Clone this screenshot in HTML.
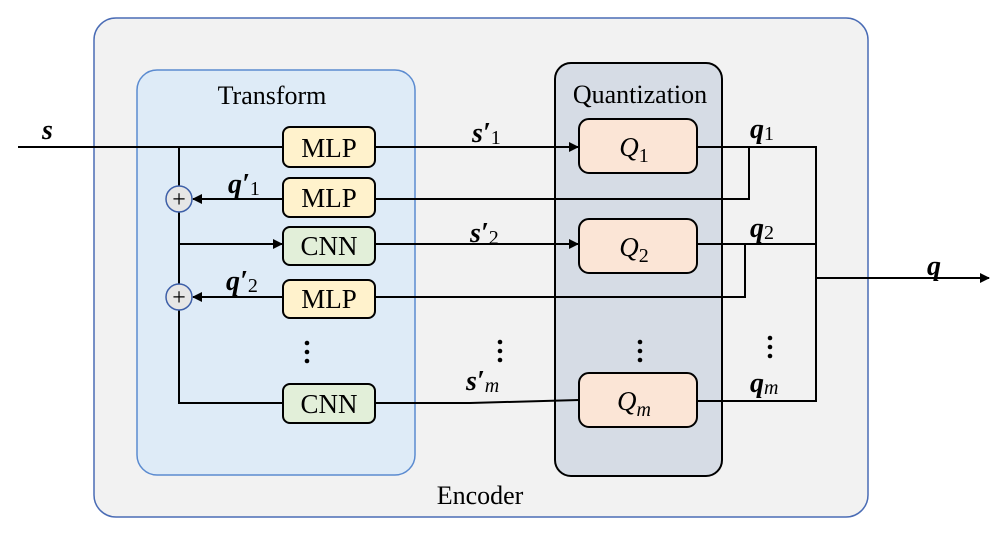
<!DOCTYPE html>
<html><head><style>body{margin:0;background:#fff}svg{display:block}</style></head><body>
<svg width="1006" height="533" viewBox="0 0 1006 533" xmlns="http://www.w3.org/2000/svg" font-family="Liberation Serif, serif">
<defs><marker id="a" markerWidth="10" markerHeight="10" refX="9" refY="5" orient="auto" markerUnits="userSpaceOnUse"><path d="M0,0 L10,5 L0,10 z" fill="#000"/></marker></defs>
<rect x="94" y="18" width="774" height="499" rx="22" fill="#f2f2f2" stroke="#4a6cb5" stroke-width="1.5"/>
<rect x="137" y="70" width="278" height="405" rx="20" fill="#deebf7" stroke="#5b8bd0" stroke-width="1.5"/>
<rect x="555" y="63" width="167" height="413" rx="16" fill="#d6dce5" stroke="#000" stroke-width="2"/>
<text x="272" y="104" font-size="26" text-anchor="middle">Transform</text>
<text x="640" y="103" font-size="26" text-anchor="middle">Quantization</text>
<text x="480" y="504" font-size="26" text-anchor="middle">Encoder</text>
<g stroke="#000" stroke-width="2" fill="none">
<path d="M18 147H283"/><path d="M179 147V403H283"/>
<path d="M375 147H578" marker-end="url(#a)"/>
<path d="M179 244H282" marker-end="url(#a)"/>
<path d="M375 244H578" marker-end="url(#a)"/>
<path d="M375 403H470L579 400"/>
<path d="M283 199H193" marker-end="url(#a)"/>
<path d="M283 297H193" marker-end="url(#a)"/>
<path d="M375 199H749V147"/>
<path d="M375 297H745V244"/>
<path d="M697 147H816V401H697"/><path d="M697 244H816"/>
<path d="M816 278H989" marker-end="url(#a)"/>
</g>
<g stroke="#000" stroke-width="2">
<rect x="283" y="127" width="92" height="40" rx="7" fill="#fff2cc"/>
<rect x="283" y="178" width="92" height="39" rx="7" fill="#fff2cc"/>
<rect x="283" y="227" width="92" height="38" rx="7" fill="#e2efd9"/>
<rect x="283" y="280" width="92" height="38" rx="7" fill="#fff2cc"/>
<rect x="283" y="384" width="92" height="39" rx="7" fill="#e2efd9"/>
<rect x="579" y="119" width="118" height="54" rx="10" fill="#fbe5d6"/>
<rect x="579" y="219" width="118" height="54" rx="10" fill="#fbe5d6"/>
<rect x="579" y="373" width="118" height="54" rx="10" fill="#fbe5d6"/>
</g>
<g font-size="27" text-anchor="middle">
<text x="329" y="157">MLP</text><text x="329" y="207">MLP</text><text x="329" y="255">CNN</text><text x="329" y="308">MLP</text><text x="329" y="413">CNN</text>
</g>
<g font-size="27" font-style="italic" text-anchor="middle">
<text x="634" y="156">Q<tspan font-style="normal" font-size="20" dy="6">1</tspan></text>
<text x="634" y="256">Q<tspan font-style="normal" font-size="20" dy="6">2</tspan></text>
<text x="634" y="410">Q<tspan font-style="italic" font-size="20" dy="6">m</tspan></text>
</g>
<g fill="#e6e6e6" stroke="#3d5fa8" stroke-width="1.5"><circle cx="179" cy="199" r="13"/><circle cx="179" cy="297" r="13"/></g>
<g font-size="24" text-anchor="middle"><text x="179" y="207">+</text><text x="179" y="305">+</text></g>
<g font-size="28" font-weight="bold" font-style="italic">
<text x="42" y="139">s</text>
<text x="472" y="142">s′<tspan font-weight="normal" font-style="normal" font-size="20" dy="2">1</tspan></text>
<text x="470" y="242">s′<tspan font-weight="normal" font-style="normal" font-size="20" dy="2">2</tspan></text>
<text x="466" y="390">s′<tspan font-weight="normal" font-size="20" dy="2">m</tspan></text>
<text x="228" y="193">q′<tspan font-weight="normal" font-style="normal" font-size="20" dy="2">1</tspan></text>
<text x="226" y="290">q′<tspan font-weight="normal" font-style="normal" font-size="20" dy="2">2</tspan></text>
<text x="750" y="138">q<tspan font-weight="normal" font-style="normal" font-size="20" dy="2">1</tspan></text>
<text x="750" y="237">q<tspan font-weight="normal" font-style="normal" font-size="20" dy="2">2</tspan></text>
<text x="750" y="392">q<tspan font-weight="normal" font-size="20" dy="2">m</tspan></text>
<text x="927" y="275">q</text>
</g>
<g fill="#000">
<circle cx="307" cy="343" r="2.3"/><circle cx="307" cy="352" r="2.3"/><circle cx="307" cy="361" r="2.3"/>
<circle cx="500" cy="342" r="2.3"/><circle cx="500" cy="351" r="2.3"/><circle cx="500" cy="360" r="2.3"/>
<circle cx="640" cy="342" r="2.3"/><circle cx="640" cy="351" r="2.3"/><circle cx="640" cy="360" r="2.3"/>
<circle cx="770" cy="338" r="2.3"/><circle cx="770" cy="347" r="2.3"/><circle cx="770" cy="356" r="2.3"/>
</g>
</svg>
</body></html>
